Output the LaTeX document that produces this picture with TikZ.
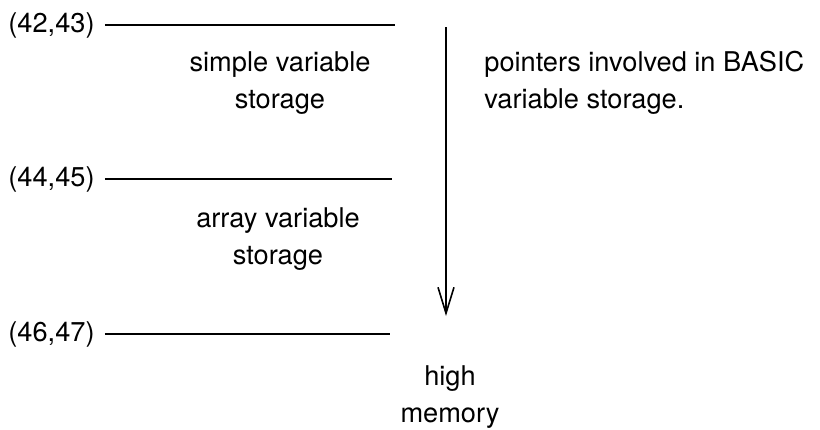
\documentclass[tikz,border=0pt]{standalone}
\usepackage{fontspec}
\setmainfont{TeX Gyre Heros}
\usetikzlibrary{arrows.meta}

\begin{document}
\begin{tikzpicture}[x=0.5pt, y=-0.5pt,
	every node/.style={font=\fontsize{13.6}{18.5}\selectfont},
	addr/.style={anchor=west, inner sep=0pt},
	area/.style={align=center, inner sep=0pt},
	rule/.style={line width=1.2pt}]

	\useasboundingbox (0,0) rectangle (820,429);

	\node [addr] (p42) at (8,25) {(42,43)};
	\node [addr] (p44) at (8,179) {(44,45)};
	\node [addr] (p46) at (8,334) {(46,47)};
	\coordinate (e42) at (395,25);
	\coordinate (e44) at (392,179);
	\coordinate (e46) at (390,334);
	\draw [rule] ([xshift=5pt]p42.east) -- (e42);
	\draw [rule] ([xshift=5pt]p44.east) -- (e44);
	\draw [rule] ([xshift=5pt]p46.east) -- (e46);

	\node [area] (simple) at (280,83) {simple variable\\storage};
	\node [area] (array) at (278,239) {array variable\\storage};
	\node [area] (high) at (450,397) {high\\memory};
	\node [area, align=left, anchor=west] (ptrs) at (484,83) {pointers involved in BASIC\\variable storage.};

	\coordinate (top) at (446,27);
	\coordinate (bot) at (446,316);
	\draw [-{Straight Barb[length=13pt,width=8pt]}, line width=0.8pt] (top) -- (bot);

\end{tikzpicture}
\end{document}
